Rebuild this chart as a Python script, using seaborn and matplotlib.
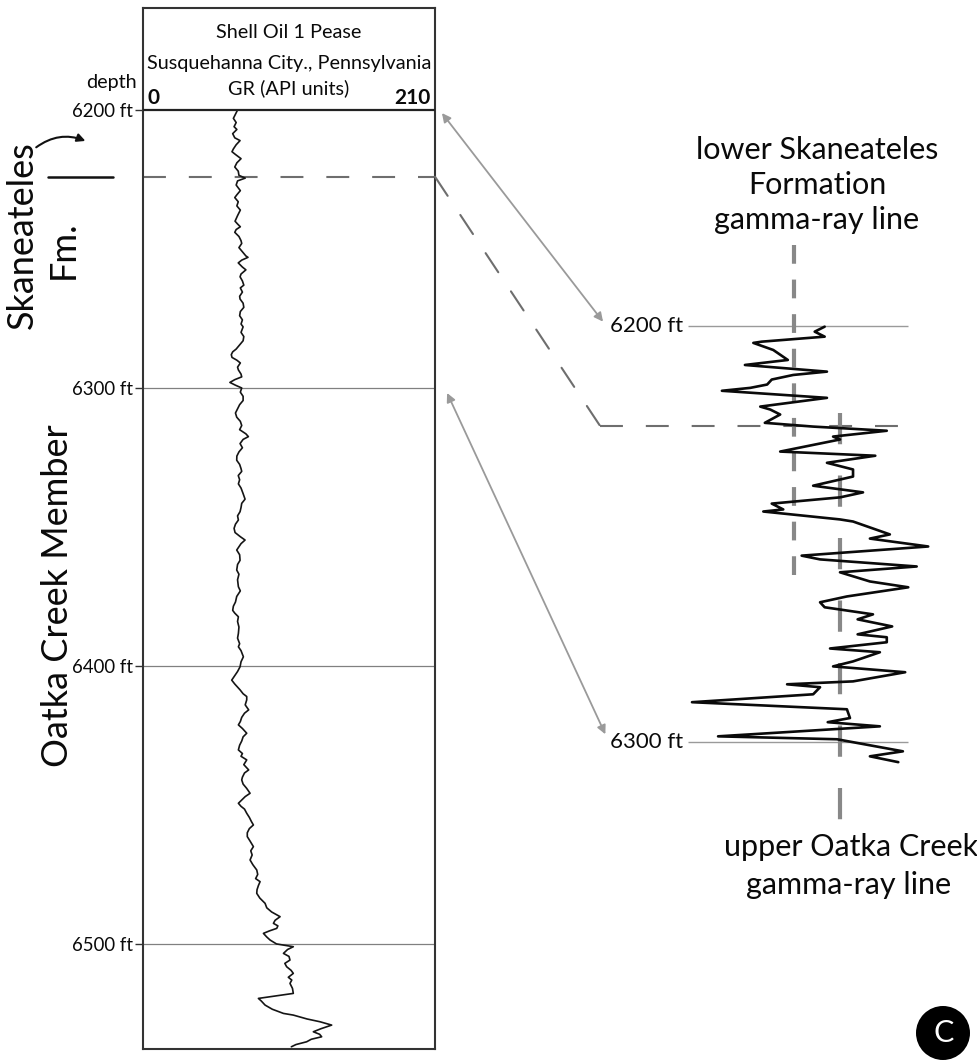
import numpy as np
import pandas as pd
import seaborn as sns
import matplotlib.pyplot as plt
from matplotlib.patches import ConnectionPatch, FancyArrowPatch, Ellipse

sns.set_style("white")
plt.rcParams['font.family'] = ['Lato', 'DejaVu Sans']
plt.rcParams['text.color'] = '#0a0a0a'

# ---------------- data ----------------
# Full log (Shell Oil 1 Pease), depth in ft and GR in API units
left_depth = [6200.0, 6201.5, 6203.0, 6204.5, 6206.0, 6207.0, 6208.5, 6210.0, 6211.0, 6212.5,
              6214.0, 6215.0, 6216.0, 6217.5, 6219.0, 6220.5, 6222.0, 6223.5, 6224.5, 6225.5,
              6227.0, 6229.0, 6230.5, 6231.5, 6233.0, 6234.5, 6236.0, 6238.0, 6240.0, 6241.0,
              6242.0, 6243.0, 6244.0, 6245.5, 6247.0, 6248.0, 6249.5, 6251.0, 6252.5, 6253.0,
              6254.0, 6255.0, 6256.5, 6257.5, 6259.0, 6260.0, 6261.5, 6263.0, 6264.0, 6265.5,
              6267.0, 6268.0, 6269.5, 6271.0, 6272.5, 6274.0, 6275.5, 6277.0, 6278.0, 6280.0,
              6281.5, 6283.0, 6284.5, 6286.0, 6287.0, 6288.0, 6289.0, 6290.0, 6291.0, 6292.5,
              6293.5, 6295.0, 6296.0, 6297.0, 6298.0, 6299.0, 6300.0, 6301.5, 6303.0, 6304.5,
              6306.0, 6307.5, 6309.0, 6310.5, 6312.0, 6313.5, 6315.0, 6316.5, 6317.5, 6318.5,
              6320.0, 6321.5, 6323.0, 6324.5, 6326.0, 6327.5, 6329.0, 6330.0, 6331.5, 6333.0,
              6334.5, 6336.0, 6338.0, 6340.0, 6341.5, 6343.0, 6344.5, 6346.0, 6347.5, 6349.0,
              6350.5, 6352.0, 6353.5, 6354.7, 6356.0, 6357.5, 6358.3, 6360.0, 6362.0, 6363.5,
              6365.5, 6367.0, 6369.0, 6371.5, 6373.0, 6375.0, 6377.0, 6378.5, 6380.0, 6381.0,
              6382.3, 6384.0, 6386.0, 6388.3, 6390.0, 6392.0, 6393.1, 6394.5, 6396.7, 6398.5,
              6400.3, 6402.0, 6403.5, 6405.1, 6406.5, 6408.6, 6410.0, 6411.0, 6412.2, 6414.0,
              6415.8, 6417.0, 6418.5, 6420.0, 6421.2, 6422.5, 6424.2, 6425.5, 6427.0, 6428.5,
              6430.2, 6431.5, 6432.5, 6433.8, 6435.5, 6437.4, 6438.5, 6440.0, 6441.0, 6442.5,
              6444.0, 6445.8, 6447.0, 6448.5, 6449.4, 6450.5, 6451.5, 6453.0, 6454.5, 6456.0,
              6457.2, 6458.5, 6460.0, 6461.4, 6463.0, 6465.0, 6466.5, 6468.0, 6469.8, 6471.5,
              6473.4, 6475.0, 6476.5, 6477.6, 6479.0, 6480.5, 6481.8, 6483.5, 6485.4, 6487.0,
              6488.5, 6490.2, 6491.5, 6492.6, 6493.5, 6494.4, 6495.3, 6496.2, 6497.5, 6498.6,
              6500.0, 6501.0, 6502.0, 6503.4, 6504.5, 6505.8, 6507.0, 6508.2, 6509.5, 6510.6,
              6512.0, 6513.0, 6514.2, 6516.0, 6517.8, 6519.6, 6520.5, 6522.0, 6523.5, 6525.0,
              6525.6, 6527.0, 6528.0, 6529.2, 6530.5, 6531.6, 6532.5, 6533.4, 6534.3, 6535.2,
              6536.2, 6537.0]
left_gr = [68.0, 66.5, 65.0, 67.0, 65.5, 67.5, 64.5, 66.0, 69.8, 67.0,
           65.0, 64.0, 66.5, 70.5, 67.5, 66.0, 68.5, 69.0, 73.5, 68.0,
           67.0, 70.0, 67.5, 66.0, 68.5, 67.5, 70.0, 68.0, 66.2, 68.0,
           70.0, 67.0, 66.0, 69.0, 70.5, 71.0, 69.0, 71.5, 74.0, 75.5,
           71.0, 68.5, 71.5, 74.0, 70.5, 69.8, 71.5, 72.5, 70.0, 71.5,
           69.5, 69.8, 72.0, 72.5, 70.0, 69.5, 71.5, 70.5, 72.0, 70.5,
           72.5, 72.0, 69.5, 67.0, 64.5, 63.5, 64.0, 67.5, 70.0, 68.0,
           68.6, 70.5, 71.0, 66.0, 62.5, 66.5, 71.0, 70.0, 72.0, 72.0,
           69.5, 68.0, 66.5, 67.4, 70.0, 71.0, 69.5, 74.0, 75.8, 72.0,
           69.8, 71.5, 69.0, 67.5, 67.4, 69.5, 70.5, 71.0, 68.5, 69.5,
           68.6, 70.5, 72.0, 73.4, 71.0, 70.5, 69.8, 68.0, 68.6, 66.5,
           65.5, 66.2, 70.0, 73.4, 70.5, 68.5, 67.4, 69.5, 69.8, 68.0,
           67.4, 69.0, 68.0, 68.6, 70.0, 67.4, 66.5, 65.0, 64.5, 66.0,
           68.6, 68.0, 69.0, 68.6, 68.0, 69.5, 68.6, 70.5, 72.2, 70.5,
           69.8, 68.0, 66.0, 63.8, 66.0, 69.8, 72.0, 74.6, 74.6, 73.5,
           76.0, 73.0, 71.0, 70.0, 68.6, 71.5, 74.6, 72.0, 71.0, 69.5,
           68.6, 71.5, 70.5, 74.6, 72.5, 76.0, 73.0, 71.5, 71.0, 72.0,
           74.5, 77.0, 73.5, 70.5, 68.6, 70.5, 73.0, 74.6, 76.5, 78.0,
           79.4, 76.5, 75.0, 75.0, 77.0, 79.4, 77.5, 78.5, 77.0, 79.0,
           81.8, 82.5, 81.0, 84.2, 83.0, 82.0, 81.8, 84.0, 87.8, 89.0,
           92.5, 98.6, 95.0, 93.8, 97.0, 96.2, 91.0, 86.6, 89.0, 91.4,
           96.0, 108.1, 104.0, 101.0, 105.0, 105.7, 102.0, 103.3, 106.5, 108.1,
           104.5, 107.0, 105.7, 107.5, 108.1, 83.0, 85.0, 87.8, 93.0, 101.0,
           108.1, 118.0, 127.3, 135.7, 128.0, 122.5, 127.0, 128.5, 121.0, 117.7,
           110.0, 106.7]

# Expanded detail of 6200-6305 ft (expanded GR scale)
right_depth = [6200.2, 6201.4, 6202.6, 6203.8, 6204.1, 6205.8, 6208.2, 6208.6, 6209.4, 6211.0,
               6211.8, 6212.9, 6214.1, 6214.9, 6215.6, 6217.3, 6219.4, 6220.1, 6221.3, 6223.3,
               6224.2, 6225.2, 6226.6, 6227.3, 6230.2, 6231.2, 6232.9, 6234.5, 6236.2, 6238.4,
               6240.0, 6241.2, 6242.7, 6244.1, 6244.6, 6246.5, 6247.0, 6250.1, 6251.1, 6253.0,
               6255.2, 6256.1, 6257.8, 6259.2, 6261.4, 6262.8, 6265.0, 6266.4, 6267.6, 6269.3,
               6270.5, 6272.2, 6274.1, 6274.8, 6276.0, 6277.5, 6278.4, 6280.6, 6281.8, 6283.2,
               6285.4, 6286.1, 6286.8, 6288.5, 6290.4, 6292.1, 6294.2, 6295.2, 6296.2, 6298.6,
               6299.3, 6302.2, 6303.4, 6304.8]
right_gr = [70.0, 68.7, 70.0, 61.8, 60.7, 63.3, 65.2, 63.3, 59.6, 70.3,
            65.9, 63.1, 62.5, 60.3, 56.6, 70.3, 61.6, 62.9, 64.2, 62.2,
            68.5, 78.1, 71.1, 72.0, 64.2, 76.6, 70.3, 73.7, 73.7, 68.5,
            75.0, 72.0, 63.1, 64.6, 62.0, 72.0, 73.7, 78.5, 75.9, 83.5,
            67.0, 69.4, 82.0, 72.0, 75.9, 80.9, 72.9, 69.4, 70.0, 76.3,
            74.3, 78.8, 74.3, 78.1, 78.1, 70.7, 77.2, 73.7, 71.1, 80.5,
            73.7, 65.1, 69.4, 68.5, 52.7, 72.9, 73.3, 70.4, 77.2, 56.1,
            71.6, 80.2, 75.9, 79.6]

depth_ticks = [6200, 6300, 6400, 6500]
depth_tick_labels = ['6200 ft', '6300 ft', '6400 ft', '6500 ft']
detail_ticks = [6200, 6300]
boundary_depth = 6224.0          # Skaneateles / Oatka Creek contact
skan_gr_line = 66.0              # lower Skaneateles gamma-ray line
oatka_gr_line = 72.0             # upper Oatka Creek gamma-ray line

# ---------------- figure ----------------
W, H = 977, 1060
fig = plt.figure(figsize=(W / 100, H / 100), dpi=100)
fig.patch.set_facecolor('white')

def fx(x):
    return x / W

def fy(y):
    return 1 - y / H

# left log axes: x 143..435 px, y 8..1049 px
axL = fig.add_axes([fx(143), fy(1049), (435 - 143) / W, (1049 - 8) / H])
sns.lineplot(x=left_gr, y=left_depth, sort=False, estimator=None, orient='y',
             color='#151515', lw=1.2, ax=axL)
axL.set_xlim(0, 210)
axL.set_ylim(6537.8, 6163.3)
axL.set_xlabel('')
axL.set_ylabel('')
axL.set_xticks([])
axL.set_yticks(depth_ticks)
axL.set_yticklabels(depth_tick_labels)
axL.tick_params(axis='y', left=True, length=6, width=1.0, color='#333333',
                labelsize=13.4, pad=1.5, labelcolor='#0a0a0a')
for s in axL.spines.values():
    s.set_visible(True)
    s.set_color('#333333')
    s.set_linewidth(1.5)
axL.axhline(6200, color='#222222', lw=1.6, zorder=3)
for d in depth_ticks[1:]:
    axL.axhline(d, color='#808080', lw=0.9, zorder=1)
dash = (0, (11, 11))
axL.axhline(boundary_depth, color='#6e6e6e', lw=1.5, ls=dash, zorder=1)

# header
axL.text(105, 6172.2, 'Shell Oil 1 Pease', ha='center', va='center', fontsize=14.3)
axL.text(105, 6183.3, 'Susquehanna City., Pennsylvania', ha='center', va='center', fontsize=14.3)
axL.text(105, 6192.3, 'GR (API units)', ha='center', va='center', fontsize=14.3)
axL.text(3, 6195.8, '0', ha='left', va='center', fontsize=15, fontweight='bold')
axL.text(207, 6195.8, '210', ha='right', va='center', fontsize=15, fontweight='bold')
axL.text(-4.5, 6190.0, 'depth', ha='right', va='center', fontsize=14.2, clip_on=False)

# boundary marker at left
axL.plot([-68, -21.5], [boundary_depth, boundary_depth], color='#111111', lw=1.8,
         clip_on=False)

# right detail axes
axR = fig.add_axes([594.6 / W, fy(846.25), 368.1 / W, 624.5 / H])
sns.lineplot(x=right_gr, y=right_depth, sort=False, estimator=None, orient='y',
             color='#0a0a0a', lw=1.9, ax=axR, zorder=4)
axR.set_xlim(40, 88)
axR.set_ylim(6325, 6175)
axR.axis('off')
axR.hlines(detail_ticks, 52.2, 80.9, color='#9a9a9a', lw=1.0, zorder=1)
for d, lab in zip(detail_ticks, ['6200 ft', '6300 ft']):
    axR.text(51.6, d, lab, ha='right', va='center', fontsize=16)
axR.hlines(boundary_depth, 40.7, 80.5, color='#6e6e6e', lw=1.5, ls=dash, zorder=2)
axR.vlines(skan_gr_line, 6180.6, 6261.0, color='#888888', lw=3.0,
           ls=(0, (4.5, 3.8)), zorder=3)
axR.vlines(oatka_gr_line, 6221.0, 6320.0, color='#888888', lw=3.0,
           ls=(0, (7.5, 7.5)), zorder=3)

# dashed diagonal connector
con = ConnectionPatch(xyA=(210, boundary_depth), coordsA=axL.transData,
                      xyB=(40.7, boundary_depth), coordsB=axR.transData,
                      color='#6e6e6e', lw=1.5, ls=dash)
fig.add_artist(con)

# grey double arrows linking depths
for (xa, ya), (xb, yb) in [((215.0, 6201.1), (41.1, 6199.0)),
                           ((218.7, 6301.8), (41.4, 6298.1))]:
    arr = ConnectionPatch(xyA=(xa, ya), coordsA=axL.transData,
                          xyB=(xb, yb), coordsB=axR.transData,
                          arrowstyle='<|-|>', mutation_scale=13, color='#9a9a9a',
                          lw=1.3, shrinkA=0, shrinkB=0)
    fig.add_artist(arr)

# left formation labels
fig.text(fx(22), fy(235), 'Skaneateles', rotation=90, ha='center', va='center', fontsize=26)
fig.text(fx(63), fy(250), 'Fm.', rotation=90, ha='center', va='center', fontsize=26)
fig.text(fx(58), fy(596), 'Oatka Creek Member', rotation=90, ha='center', va='center',
         fontsize=26)
carrow = FancyArrowPatch(posA=(fx(34), fy(149)), posB=(fx(88), fy(142)),
                         transform=fig.transFigure, connectionstyle='arc3,rad=-0.3',
                         arrowstyle='-|>', mutation_scale=12, lw=1.5, color='#111111')
fig.add_artist(carrow)

# right annotations
fig.text(fx(817), fy(150), 'lower Skaneateles', ha='center', va='center', fontsize=22)
fig.text(fx(817), fy(185), 'Formation', ha='center', va='center', fontsize=22)
fig.text(fx(817), fy(220), 'gamma-ray line', ha='center', va='center', fontsize=22)
fig.text(fx(851), fy(847), 'upper Oatka Creek', ha='center', va='center', fontsize=22)
fig.text(fx(849), fy(885), 'gamma-ray line', ha='center', va='center', fontsize=22)

# panel label
fig.add_artist(Ellipse((fx(943), fy(1033)), 54 / W, 54 / H, transform=fig.transFigure,
                       facecolor='black', edgecolor='none'))
fig.text(fx(944), fy(1033), 'C', ha='center', va='center', fontsize=22, color='white')

fig.savefig('out.png', dpi=100, facecolor='white')
